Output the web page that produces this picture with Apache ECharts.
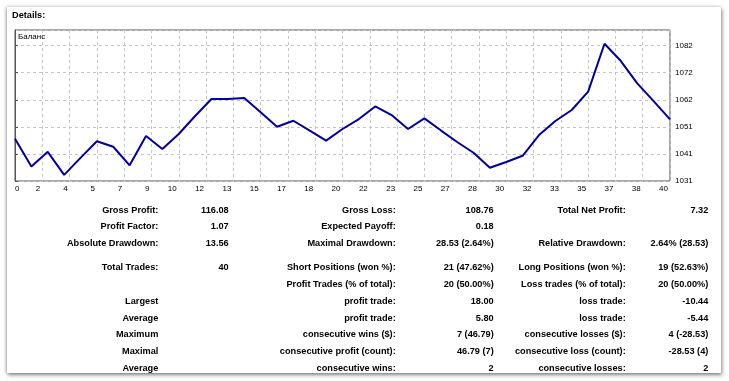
<!DOCTYPE html>
<html>
<head>
<meta charset="utf-8">
<script src="https://cdn.jsdelivr.net/npm/echarts@6/dist/echarts.min.js"></script>
<style>
  html, body { margin: 0; padding: 0; background: #ffffff; }
  #panel { position: absolute; left: 7px; top: 7px; width: 714px; height: 366px; background: #fff;
           box-shadow: 1px 2px 4px rgba(0,0,0,0.45), -1px 0 3px rgba(0,0,0,0.25); }
  #chart { position: absolute; left: 0; top: 0; width: 729px; height: 381px; }
</style>
</head>
<body>
<div id="panel"></div>
<div id="chart"></div>
<script>
// ---- data ----
const title = 'Details:';
const seriesName = 'Баланс';
const balance = [
  1046.7, 1036.3, 1041.8, 1033.1, 1039.5, 1045.8, 1043.7, 1036.7, 1047.75, 1042.85,
  1048.5, 1055.3, 1061.7, 1061.7, 1062.1, 1056.7, 1051.25, 1053.5, 1049.75, 1046.0,
  1050.4, 1054.15, 1058.9, 1055.65, 1050.4, 1054.4, 1049.9, 1045.5, 1041.45, 1035.8,
  1037.95, 1040.3, 1048.1, 1053.4, 1057.55, 1064.5, 1082.5, 1076.0, 1067.6, 1060.9,
  1054.0
];
const xTickLabels = ['0','2','4','5','7','9','10','12','13','15','17','18','20','22','23','25','27','28','30','32','33','35','37','38','40'];
const yTickLabels = ['1031','1041','1051','1062','1072','1082'];

const col1Labels = ['Gross Profit:', 'Profit Factor:', 'Absolute Drawdown:', 'Total Trades:', '', 'Largest', 'Average', 'Maximum', 'Maximal', 'Average'];
const col1Values = ['116.08', '1.07', '13.56', '40', '', '', '', '', '', ''];
const col2Labels = ['Gross Loss:', 'Expected Payoff:', 'Maximal Drawdown:', 'Short Positions (won %):', 'Profit Trades (% of total):', 'profit trade:', 'profit trade:', 'consecutive wins ($):', 'consecutive profit (count):', 'consecutive wins:'];
const col2Values = ['108.76', '0.18', '28.53 (2.64%)', '21 (47.62%)', '20 (50.00%)', '18.00', '5.80', '7 (46.79)', '46.79 (7)', '2'];
const col3Labels = ['Total Net Profit:', '', 'Relative Drawdown:', 'Long Positions (won %):', 'Loss trades (% of total):', 'loss trade:', 'loss trade:', 'consecutive losses ($):', 'consecutive loss (count):', 'consecutive losses:'];
const col3Values = ['7.32', '', '2.64% (28.53)', '19 (52.63%)', '20 (50.00%)', '-10.44', '-5.44', '4 (-28.53)', '-28.53 (4)', '2'];

// ---- layout ----
const FONT = '"Liberation Sans", Arial, sans-serif';
const yMin = 1030.8, yStep = 10.2, yMax = 1087.7;
const xMax = balance.length - 1;
const xStep = xMax / (xTickLabels.length - 1);

const colRight = [158.3, 228.7, 395.7, 493.7, 625.7, 708.3];
function rowY(k) { return k < 3 ? 210 + 16.8 * k : 267.7 + 16.8 * (k - 3); }

const graphics = [];
graphics.push({ type: 'text', z: 10, style: { text: title, x: 12, y: 15, textVerticalAlign: 'middle',
  fill: '#000', fontSize: 9.2, fontWeight: 'bold', fontFamily: FONT } });
graphics.push({ type: 'text', z: 10, style: { text: seriesName, x: 18, y: 37, textVerticalAlign: 'middle',
  fill: '#000', fontSize: 8, fontFamily: FONT } });
const cols = [col1Labels, col1Values, col2Labels, col2Values, col3Labels, col3Values];
cols.forEach((arr, c) => {
  arr.forEach((t, k) => {
    if (!t) return;
    graphics.push({ type: 'text', z: 10, style: { text: t, x: colRight[c], y: rowY(k),
      textAlign: 'right', textVerticalAlign: 'middle', fill: '#000',
      fontSize: 9.2, fontWeight: 'bold', fontFamily: FONT } });
  });
});

const chart = echarts.init(document.getElementById('chart'), null, { renderer: 'canvas' });
chart.setOption({
  animation: false,
  backgroundColor: 'transparent',
  grid: { left: 15, top: 30, width: 655, height: 151, show: true, borderColor: '#555', borderWidth: 1,
          backgroundColor: 'transparent', containLabel: false },
  xAxis: {
    type: 'value', min: 0, max: xMax, interval: xStep,
    axisLine: { show: false },
    axisTick: { show: false },
    splitLine: { show: true, lineStyle: { color: '#c4c4c4', type: [3, 3], width: 1 } },
    axisLabel: {
      margin: 4, fontSize: 8, color: '#000', fontFamily: FONT,
      align: 'right', padding: [0, 2, 0, 0],
      alignMinLabel: 'left', alignMaxLabel: 'right',
      formatter: v => { const s = xTickLabels[Math.round(v / xStep)]; return s === undefined ? '' : s; }
    }
  },
  yAxis: {
    type: 'value', position: 'right', min: yMin, max: yMax, interval: yStep,
    axisLine: { show: true, lineStyle: { color: '#555', width: 1 } },
    axisTick: { show: true, inside: false, length: 3, lineStyle: { color: '#555' } },
    splitLine: { show: true, lineStyle: { color: '#c4c4c4', type: [3, 3], width: 1 } },
    axisLabel: {
      margin: 5, fontSize: 8, color: '#000', fontFamily: FONT,
      showMaxLabel: false,
      formatter: v => { const s = yTickLabels[Math.round((v - yMin) / yStep)]; return s === undefined ? '' : s; }
    }
  },
  series: [{
    type: 'line', name: seriesName,
    data: balance.map((v, i) => [i, v]),
    showSymbol: false, symbol: 'none',
    lineStyle: { color: '#0000a0', width: 2 },
    itemStyle: { color: '#0000a0' }
  }],
  graphic: { elements: graphics }
});
</script>
</body>
</html>
